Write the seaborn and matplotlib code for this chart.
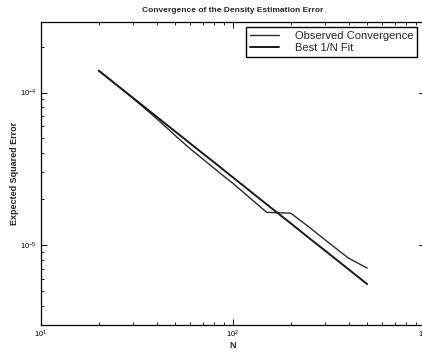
import matplotlib
matplotlib.use("Agg")
import matplotlib.pyplot as plt
import seaborn as sns
import pandas as pd
from matplotlib.ticker import LogLocator, NullFormatter

sample_sizes = [20, 30, 40, 50, 60, 70, 80, 90, 100, 150, 200, 250, 300, 400, 500]
observed_error = [1.393e-4, 9.22e-5, 6.76e-5, 5.23e-5, 4.27e-5, 3.65e-5, 3.18e-5,
                  2.82e-5, 2.54e-5, 1.64e-5, 1.62e-5, 1.31e-5, 1.09e-5, 8.22e-6, 7.08e-6]
fit_error = [1.39e-4, 9.27e-5, 6.95e-5, 5.56e-5, 4.63e-5, 3.97e-5, 3.48e-5,
             3.09e-5, 2.78e-5, 1.85e-5, 1.39e-5, 1.11e-5, 9.27e-6, 6.95e-6, 5.56e-6]
series_names = ["Observed Convergence", "Best 1/N Fit"]

sns.set_style("ticks", {"xtick.direction": "in", "ytick.direction": "in"})
plt.rcParams["font.family"] = ["Liberation Sans", "DejaVu Sans"]

df = pd.DataFrame({
    "N": sample_sizes * 2,
    "err": observed_error + fit_error,
    "series": [series_names[0]] * len(sample_sizes) + [series_names[1]] * len(sample_sizes),
})

fig = plt.figure(figsize=(4.22, 3.5), dpi=100)
ax = fig.add_axes([0.097, 0.0714, 0.91, 0.866])

sns.lineplot(data=df[df.series == series_names[0]], x="N", y="err", color="#2a2a2a",
             linewidth=1.0, ax=ax, label=series_names[0])
sns.lineplot(data=df[df.series == series_names[1]], x="N", y="err", color="#1a1a1a",
             linewidth=1.4, ax=ax, label=series_names[1])

ax.set_xscale("log")
ax.set_yscale("log")
ax.set_xlim(10, 1000)
ax.set_ylim(3.0e-6, 2.9e-4)

for s in ax.spines.values():
    s.set_color("black")
    s.set_linewidth(0.9)

ax.tick_params(which="both", top=True, right=True, direction="in", labelsize=5.5, colors="black")
ax.tick_params(which="major", length=4, width=0.7)
ax.tick_params(which="minor", length=2, width=0.6)
ax.tick_params(axis="x", pad=2.5)
ax.xaxis.set_minor_locator(LogLocator(base=10, subs=range(2, 10), numticks=20))
ax.yaxis.set_minor_locator(LogLocator(base=10, subs=range(2, 10), numticks=20))
ax.xaxis.set_minor_formatter(NullFormatter())
ax.yaxis.set_minor_formatter(NullFormatter())

ax.set_title("Convergence of the Density Estimation Error", fontsize=6, fontweight="bold", pad=7)
ax.set_xlabel("N", fontsize=6.5, fontweight="bold")
ax.set_ylabel("Expected Squared Error", fontsize=6.5, fontweight="bold")
ax.xaxis.set_label_coords(0.5, -0.054)
ax.yaxis.set_label_coords(-0.058, 0.5)

leg = ax.legend(loc="upper right", bbox_to_anchor=(0.979, 0.984), borderaxespad=0,
                fontsize=8, frameon=True, fancybox=False, edgecolor="black", framealpha=1,
                handlelength=2.6, borderpad=0.35, labelspacing=0.2, handletextpad=1.4)
leg.get_frame().set_linewidth(1.0)

fig.savefig("out.png", dpi=100)
